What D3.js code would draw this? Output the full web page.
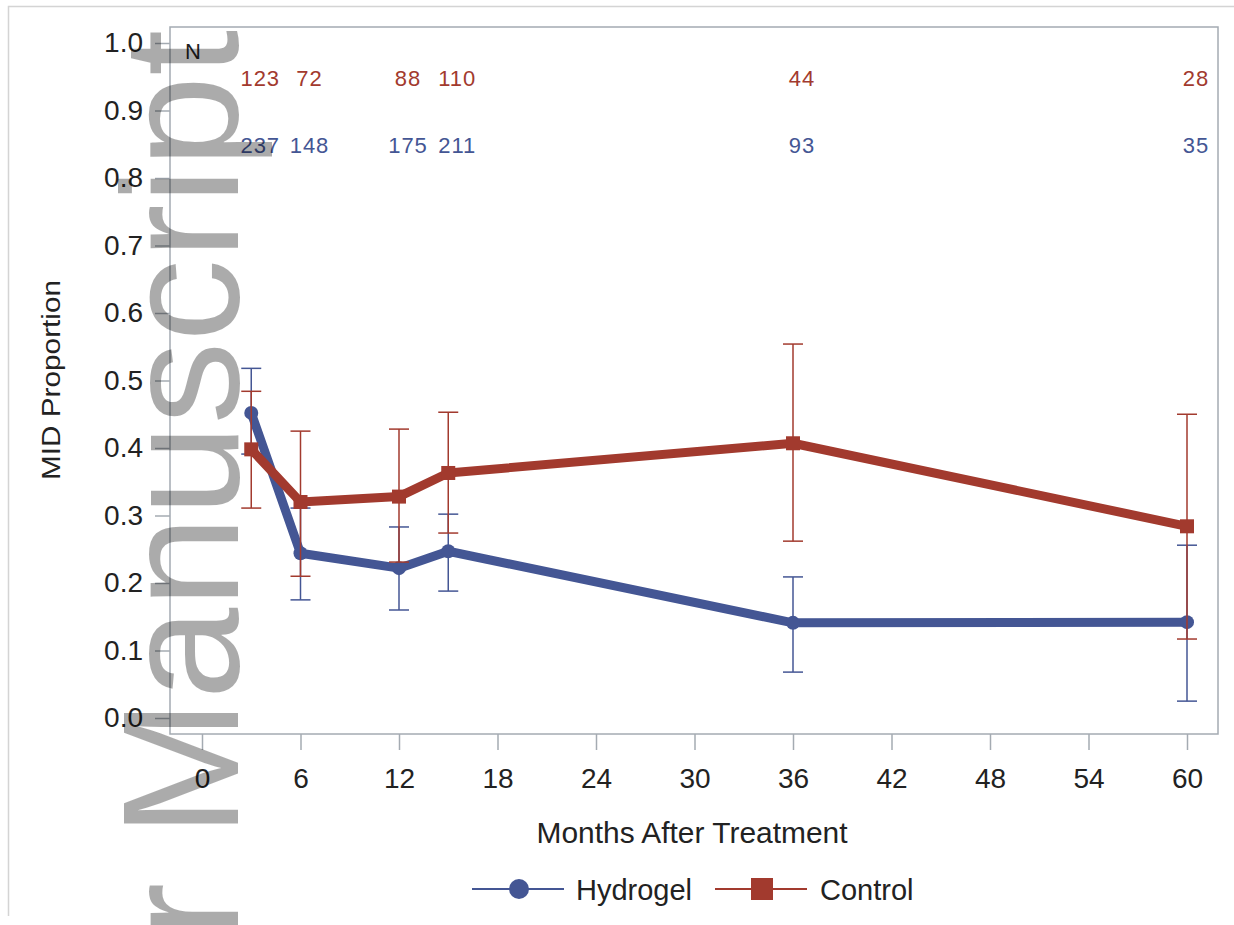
<!DOCTYPE html>
<html lang="en">
<head>
    <meta charset="UTF-8">
    <title>MID Proportion</title>
    <script src="https://d3js.org/d3.v7.min.js"></script>
    <style>
        body { margin: 0; background: #fff; font-family: 'Liberation Sans', Arial, sans-serif; }
    </style>
</head>
<body>
    <svg id="chart" width="1234" height="925"></svg>
    <script>
        // values
        const months = [3, 6, 12, 15, 36, 60];
        const hydrogelMid = [0.452, 0.244, 0.222, 0.247, 0.141, 0.142];
        const hydrogelLo = [0.391, 0.175, 0.160, 0.188, 0.068, 0.025];
        const hydrogelHi = [0.518, 0.311, 0.283, 0.302, 0.209, 0.256];
        const controlMid = [0.398, 0.320, 0.328, 0.363, 0.407, 0.284];
        const controlLo = [0.311, 0.210, 0.231, 0.274, 0.262, 0.117];
        const controlHi = [0.484, 0.425, 0.428, 0.453, 0.554, 0.450];
        const hydrogelN = [237, 148, 175, 211, 93, 35];
        const controlN = [123, 72, 88, 110, 44, 28];
        const xTicks = [0, 6, 12, 18, 24, 30, 36, 42, 48, 54, 60];
        const yTicks = [0, 0.1, 0.2, 0.3, 0.4, 0.5, 0.6, 0.7, 0.8, 0.9, 1.0];

        const blue = "#445694";
        const red = "#a23a2e";

        const svg = d3.select("#chart");
        const x = d3.scaleLinear().domain([0, 60]).range([202, 1187]);
        const y = d3.scaleLinear().domain([0, 1]).range([718, 43]);

        // outer border (only top and left show)
        svg.append("path")
            .attr("d", "M8.5,916V6.5H1234")
            .attr("fill", "none").attr("stroke", "#d4d4d4").attr("stroke-width", 1.5);

        // plot frame
        svg.append("rect")
            .attr("x", 170).attr("y", 27).attr("width", 1048).attr("height", 707)
            .attr("fill", "none").attr("stroke", "#a4abb2").attr("stroke-width", 1.5);

        const yAxis = svg.append("g")
            .attr("transform", "translate(170,0)")
            .call(d3.axisLeft(y).tickValues(yTicks).tickFormat(d3.format(".1f")).tickSize(15).tickPadding(12));
        const xAxis = svg.append("g")
            .attr("transform", "translate(0,734)")
            .call(d3.axisBottom(x).tickValues(xTicks).tickSize(16).tickPadding(18));
        [yAxis, xAxis].forEach(g => {
            g.select(".domain").remove();
            g.selectAll(".tick line").attr("stroke", "#a4abb2").attr("stroke-width", 1.5);
            g.selectAll(".tick text")
                .attr("fill", "#222")
                .style("font-family", "'Liberation Sans', Arial, sans-serif")
                .style("font-size", "28px");
        });

        // axis labels
        svg.append("text")
            .attr("x", 692).attr("y", 843)
            .attr("text-anchor", "middle")
            .attr("fill", "#222")
            .style("font-size", "30px")
            .attr("textLength", 311).attr("lengthAdjust", "spacingAndGlyphs")
            .text("Months After Treatment");
        svg.append("text")
            .attr("transform", "translate(60,380) rotate(-90)")
            .attr("text-anchor", "middle")
            .attr("fill", "#222")
            .style("font-size", "25px")
            .attr("textLength", 200).attr("lengthAdjust", "spacingAndGlyphs")
            .text("MID Proportion");

        // N at risk rows
        svg.append("text")
            .attr("x", 185).attr("y", 59)
            .attr("fill", "#222").style("font-size", "22px")
            .text("N");
        const rows = [
            { n: controlN, color: red, base: 86 },
            { n: hydrogelN, color: blue, base: 153 }
        ];
        rows.forEach(r => {
            svg.append("g").selectAll("text")
                .data(r.n)
                .enter()
                .append("text")
                .attr("x", (d, i) => x(months[i]) + 9)
                .attr("y", r.base)
                .attr("text-anchor", "middle")
                .attr("fill", r.color)
                .style("font-size", "22px")
                .style("letter-spacing", "1px")
                .text(d => d);
        });

        const series = [
            { name: "Hydrogel", mid: hydrogelMid, lo: hydrogelLo, hi: hydrogelHi, color: blue, marker: "circle" },
            { name: "Control", mid: controlMid, lo: controlLo, hi: controlHi, color: red, marker: "square" }
        ];

        const line = d3.line()
            .x((d, i) => x(months[i]))
            .y(d => y(d));

        series.forEach(s => {
            const g = svg.append("g");
            const bars = g.selectAll("g.bar")
                .data(months)
                .enter()
                .append("g")
                .attr("stroke", s.color)
                .attr("stroke-width", 1.5);
            bars.append("line")
                .attr("x1", d => x(d)).attr("x2", d => x(d))
                .attr("y1", (d, i) => y(s.lo[i])).attr("y2", (d, i) => y(s.hi[i]));
            bars.append("line")
                .attr("x1", d => x(d) - 10).attr("x2", d => x(d) + 10)
                .attr("y1", (d, i) => y(s.lo[i])).attr("y2", (d, i) => y(s.lo[i]));
            bars.append("line")
                .attr("x1", d => x(d) - 10).attr("x2", d => x(d) + 10)
                .attr("y1", (d, i) => y(s.hi[i])).attr("y2", (d, i) => y(s.hi[i]));

            g.append("path")
                .datum(s.mid)
                .attr("d", line)
                .attr("fill", "none")
                .attr("stroke", s.color)
                .attr("stroke-width", 9)
                .attr("stroke-linejoin", "round");

            if (s.marker === "circle") {
                g.selectAll("circle")
                    .data(s.mid)
                    .enter()
                    .append("circle")
                    .attr("cx", (d, i) => x(months[i]))
                    .attr("cy", d => y(d))
                    .attr("r", 7)
                    .attr("fill", s.color);
            } else {
                g.selectAll("rect")
                    .data(s.mid)
                    .enter()
                    .append("rect")
                    .attr("x", (d, i) => x(months[i]) - 7)
                    .attr("y", d => y(d) - 7)
                    .attr("width", 14).attr("height", 14)
                    .attr("fill", s.color);
            }
        });

        // legend
        const legend = svg.append("g");
        legend.append("line").attr("x1", 472).attr("x2", 564).attr("y1", 889).attr("y2", 889)
            .attr("stroke", blue).attr("stroke-width", 2);
        legend.append("circle").attr("cx", 519).attr("cy", 889).attr("r", 10).attr("fill", blue);
        legend.append("text").attr("x", 576).attr("y", 900)
            .attr("fill", "#222").style("font-size", "29px").text("Hydrogel");
        legend.append("line").attr("x1", 715).attr("x2", 807).attr("y1", 889).attr("y2", 889)
            .attr("stroke", red).attr("stroke-width", 2);
        legend.append("rect").attr("x", 751).attr("y", 878).attr("width", 22).attr("height", 22).attr("fill", red);
        legend.append("text").attr("x", 820).attr("y", 900)
            .attr("fill", "#222").style("font-size", "29px").text("Control");

        // watermark
        svg.append("text")
            .attr("transform", "translate(238,30) rotate(-90)")
            .attr("text-anchor", "end")
            .attr("fill", "#000")
            .attr("fill-opacity", 0.33)
            .style("font-family", "'Liberation Sans', Arial, sans-serif")
            .style("font-size", "165px")
            .text("Author Manuscript");
    </script>
</body>
</html>
